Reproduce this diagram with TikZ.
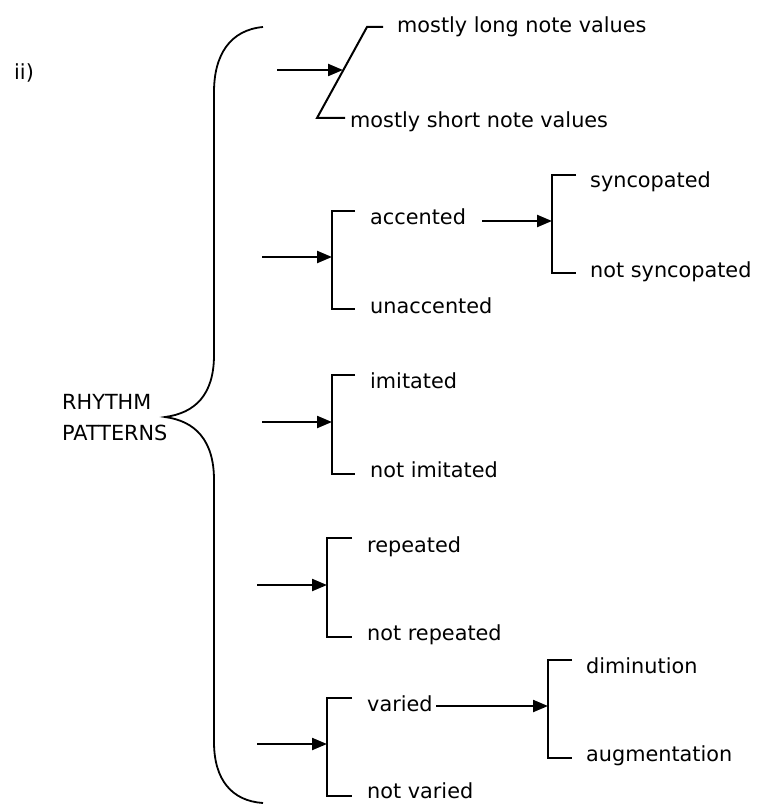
\documentclass[tikz,border=0pt]{standalone}
\usepackage{fontspec}
\setmainfont{DejaVu Sans}
\usetikzlibrary{arrows.meta}
\begin{document}
\begin{tikzpicture}[x=1pt,y=-1pt,
  lbl/.style={anchor=base west,inner sep=0pt,font=\fontsize{20.8}{24}\selectfont},
  brk/.style={line width=2pt},
  arr/.style={line width=2.2pt,-{Triangle[length=15pt,width=12pt]}},
  brace/.style={line width=1.8pt}]
\useasboundingbox (0,0) rectangle (762,805);
% labels
\node[lbl] (ii) at (14,80) {ii)};
\node[lbl] (rp1) at (62,409) {RHYTHM};
\node[lbl] (rp2) at (62,440) {PATTERNS};
% brace
\coordinate (bt) at (263,27);
\coordinate (bm) at (165,417);
\coordinate (bb) at (263,803);
\draw[brace] (bt) .. controls (230,30) and (214,55) .. (214,92)
  -- (214,355) .. controls (214,395) and (195,413) .. (bm)
  .. controls (195,421) and (214,440) .. (214,480)
  -- (214,742) .. controls (214,780) and (232,801) .. (bb);
% group 1
\node[lbl] (long) at (397,33) {mostly long note values};
\node[lbl] (short) at (350,128) {mostly short note values};
\coordinate (g1a) at (383,27);
\coordinate (g1b) at (367,27);
\coordinate (g1c) at (317,118);
\coordinate (g1d) at (345,118);
\draw[brk] (g1a) -- (g1b) -- (g1c) -- (g1d);
\coordinate (a1s) at (277,70);
\coordinate (a1e) at (343,70);
\draw[arr] (a1s) -- (a1e);
% group 2
\node[lbl] (acc) at (370,224) {accented};
\node[lbl] (unacc) at (370,313) {unaccented};
\coordinate (g2t) at (355,211);
\coordinate (g2a) at (332,211);
\coordinate (g2b) at (332,309);
\coordinate (g2c) at (355,309);
\draw[brk] (g2t) -- (g2a) -- (g2b) -- (g2c);
\coordinate (a2s) at (262,257);
\coordinate (a2e) at (332,257);
\draw[arr] (a2s) -- (a2e);
% syncopated
\node[lbl] (sync) at (590,187) {syncopated};
\node[lbl] (nsync) at (590,277) {not syncopated};
\coordinate (g6t) at (576,175);
\coordinate (g6a) at (552,175);
\coordinate (g6b) at (552,273);
\coordinate (g6c) at (576,273);
\draw[brk] (g6t) -- (g6a) -- (g6b) -- (g6c);
\coordinate (a6s) at (482,221);
\coordinate (a6e) at (552,221);
\draw[arr] (a6s) -- (a6e);
% group 3
\node[lbl] (imi) at (370,388) {imitated};
\node[lbl] (nimi) at (370,477) {not imitated};
\coordinate (g3t) at (355,375);
\coordinate (g3a) at (332,375);
\coordinate (g3b) at (332,474);
\coordinate (g3c) at (355,474);
\draw[brk] (g3t) -- (g3a) -- (g3b) -- (g3c);
\coordinate (a3s) at (262,422);
\coordinate (a3e) at (332,422);
\draw[arr] (a3s) -- (a3e);
% group 4
\node[lbl] (rep) at (367,552) {repeated};
\node[lbl] (nrep) at (367,640) {not repeated};
\coordinate (g4t) at (352,538);
\coordinate (g4a) at (327,538);
\coordinate (g4b) at (327,637);
\coordinate (g4c) at (352,637);
\draw[brk] (g4t) -- (g4a) -- (g4b) -- (g4c);
\coordinate (a4s) at (257,585);
\coordinate (a4e) at (327,585);
\draw[arr] (a4s) -- (a4e);
% group 5
\node[lbl] (var) at (367,711) {varied};
\node[lbl] (nvar) at (367,798) {not varied};
\coordinate (g5t) at (352,698);
\coordinate (g5a) at (327,698);
\coordinate (g5b) at (327,796);
\coordinate (g5c) at (352,796);
\draw[brk] (g5t) -- (g5a) -- (g5b) -- (g5c);
\coordinate (a5s) at (257,744);
\coordinate (a5e) at (327,744);
\draw[arr] (a5s) -- (a5e);
% diminution
\node[lbl] (dim) at (586,673) {diminution};
\node[lbl] (aug) at (586,761) {augmentation};
\coordinate (g7t) at (572,660);
\coordinate (g7a) at (548,660);
\coordinate (g7b) at (548,758);
\coordinate (g7c) at (572,758);
\draw[brk] (g7t) -- (g7a) -- (g7b) -- (g7c);
\coordinate (a7s) at (436,706);
\coordinate (a7e) at (548,706);
\draw[arr] (a7s) -- (a7e);
\end{tikzpicture}
\end{document}
